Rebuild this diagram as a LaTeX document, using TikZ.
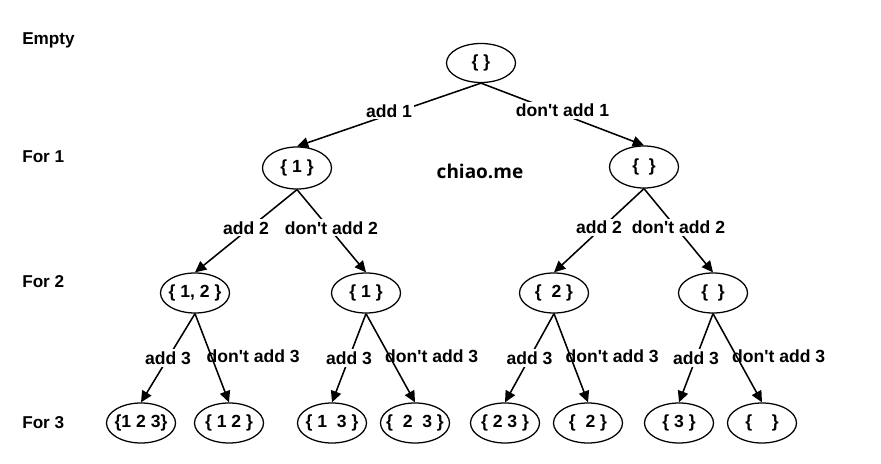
\documentclass[tikz,border=0pt]{standalone}
\usepackage{fontspec}
\setmainfont{Liberation Sans}[Ligatures=TeXOff]
\newfontfamily\markfont{Open Sans}
\usetikzlibrary{arrows.meta, shapes.geometric}

\begin{document}
\begin{tikzpicture}[x=0.025cm, y=-0.025cm,
  setnode/.style={draw, ellipse, line width=0.9pt, minimum width=1.725cm, minimum height=1cm,
    inner xsep=-6pt, inner ysep=0pt, font=\fontsize{12.5}{14}\selectfont\bfseries},
  lbl/.style={fill=white, inner sep=1.5pt, font=\fontsize{12.5}{14}\selectfont\bfseries},
  lblside/.style={inner sep=0pt, xshift=1.03cm, yshift=0.05cm, font=\fontsize{12.5}{14}\selectfont\bfseries},
  levelname/.style={anchor=west, inner sep=0pt, font=\fontsize{12.2}{14}\selectfont\bfseries},
  arr/.style={-{Triangle[length=8pt,width=7.5pt]}, line width=1.1pt}]
	\useasboundingbox (0,0) rectangle (881,464);
	% level names
	\node[levelname] (lvE) at (22,40) {Empty};
	\node[levelname] (lv1) at (22,157) {For 1};
	\node[levelname] (lv2) at (22,282) {For 2};
	\node[levelname] (lv3) at (22,423) {For 3};
	% watermark
	\node[font=\markfont\fontsize{13.5}{15}\selectfont\bfseries] (mark) at (480,171) {chiao.me};
	% sets
	\node[setnode, minimum height=0.975cm] (root) at (481,63) {\{ \}};
	\node[setnode, minimum height=1.05cm] (sA) at (297,168) {\{ 1 \}};
	\node[setnode, minimum height=1.05cm] (sB) at (644,167) {\{ ~\}};
	\node[setnode] (sAA) at (195,293) {\{ 1, 2 \}};
	\node[setnode] (sAB) at (366,293) {\{ 1 \}};
	\node[setnode] (sBA) at (554,293) {\{ ~2 \}};
	\node[setnode] (sBB) at (713,293) {\{ ~\}};
	\node[setnode] (sAAA) at (141,423) {\{1 2 3\}};
	\node[setnode] (sAAB) at (229,423) {\{ 1 2 \}};
	\node[setnode] (sABA) at (332,423) {\{ 1 ~3 \}};
	\node[setnode] (sABB) at (415,423) {\{ ~2 ~3 \}};
	\node[setnode] (sBAA) at (505,423) {\{ 2 3 \}};
	\node[setnode] (sBAB) at (588,423) {\{ ~2 \}};
	\node[setnode] (sBBA) at (679,423) {\{ 3 \}};
	\node[setnode] (sBBB) at (762,423) {\{ ~~~\}};
	% choices
	\draw[arr] (root.south) -- node[lbl, yshift=0.1cm] {add 1} (sA.north);
	\draw[arr] (root.south) -- node[lbl, yshift=0.1cm] {don't add 1} (sB.north);
	\draw[arr] (sA.south) -- node[lbl, yshift=0.08cm] {add 2} (sAA.north);
	\draw[arr] (sA.south) -- node[lbl, yshift=0.08cm] {don't add 2} (sAB.north);
	\draw[arr] (sB.south) -- node[lbl, yshift=0.08cm] {add 2} (sBA.north);
	\draw[arr] (sB.south) -- node[lbl, yshift=0.08cm] {don't add 2} (sBB.north);
	\draw[arr] (sAA.south) -- node[lbl] {add 3} (sAAA.north);
	\draw[arr] (sAA.south) -- node[lblside] {don't add 3} (sAAB.north);
	\draw[arr] (sAB.south) -- node[lbl] {add 3} (sABA.north);
	\draw[arr] (sAB.south) -- node[lblside] {don't add 3} (sABB.north);
	\draw[arr] (sBA.south) -- node[lbl] {add 3} (sBAA.north);
	\draw[arr] (sBA.south) -- node[lblside] {don't add 3} (sBAB.north);
	\draw[arr] (sBB.south) -- node[lbl] {add 3} (sBBA.north);
	\draw[arr] (sBB.south) -- node[lblside] {don't add 3} (sBBB.north);
\end{tikzpicture}
\end{document}
